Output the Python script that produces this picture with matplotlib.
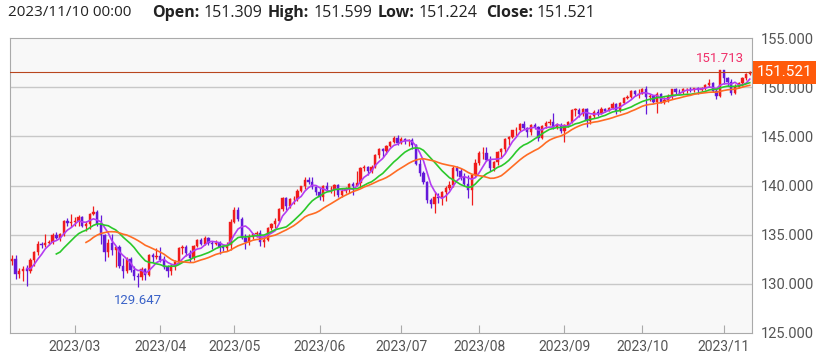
import matplotlib
matplotlib.use("Agg")
import matplotlib.pyplot as plt
import matplotlib.patches as mpatches
import numpy as np
import pandas as pd

# USD/JPY daily candles, 2023/02/06 - 2023/11/10 (weekdays)
dates = pd.bdate_range("2023-02-06", "2023-11-10")

opens = [
    132.30, 132.55, 131.05, 131.35, 131.50, 131.35, 132.40, 133.20, 134.10, 133.90,
    134.15, 134.25, 135.00, 134.70, 135.05, 136.40, 136.20,
    136.25, 136.40, 136.75, 135.85, 136.05, 137.10, 137.30, 136.10, 135.00, 133.20,
    134.20, 133.40, 133.70, 131.80, 131.30, 132.50, 131.45, 130.80, 130.70, 131.50,
    130.90, 132.90, 132.70,
    132.80, 132.40, 131.70, 131.30, 131.80, 132.20, 133.60, 133.70, 133.10, 132.60,
    133.80, 134.50, 134.10, 134.70, 134.20, 134.10, 134.20, 133.70, 133.60, 133.90,
    136.30, 137.50, 136.60, 134.70, 134.30, 134.80, 135.10, 135.20, 134.30, 134.50,
    135.70, 136.10, 136.40, 137.60, 138.70, 137.90, 138.60, 138.60, 139.40, 139.90,
    140.60, 140.40, 139.80,
    139.30, 138.80, 139.90, 139.60, 139.60, 140.10, 139.00, 139.40, 139.60, 140.20,
    140.00, 140.30, 141.80, 141.90, 141.50, 141.90, 143.10, 143.70, 143.50, 144.00,
    144.40, 144.80,
    144.30, 144.70, 144.50, 144.60, 144.10, 142.20, 141.30, 140.40, 138.50, 138.10,
    138.80, 138.75, 139.30, 139.70, 140.10, 141.80, 141.50, 140.90, 140.20, 139.50,
    141.10,
    142.30, 143.30, 143.30, 142.55, 141.80, 142.40, 143.40, 143.70, 144.70, 144.90,
    145.60, 145.60, 146.30, 145.80, 145.40, 146.20, 145.90, 144.80, 146.10, 146.40,
    146.50, 145.90, 146.20,
    145.50, 146.20, 146.50, 147.70, 147.70, 147.30, 147.80, 146.60, 147.10, 147.50,
    147.40, 147.80, 147.60, 147.90, 148.30, 147.60, 148.40, 148.90, 149.05, 149.60,
    149.30,
    149.35, 149.85, 149.00, 149.10, 148.50, 149.30, 148.50, 148.70, 149.10, 149.80,
    149.55, 149.50, 149.80, 149.85, 149.80, 149.90, 149.70, 149.90, 150.20, 150.40,
    149.60, 149.10,
    151.70, 150.90, 150.50, 149.40, 150.00, 150.40, 150.90, 151.309,
]
highs = [
    132.90, 132.90, 131.60, 131.80, 131.90, 132.60, 133.30, 134.35, 134.30, 135.10,
    134.50, 135.20, 135.30, 135.20, 136.50, 136.70, 137.10,
    136.80, 137.05, 136.90, 136.40, 137.20, 137.90, 137.50, 136.95, 135.10, 134.60,
    135.10, 133.80, 133.90, 132.60, 132.70, 132.70, 131.80, 131.10, 131.70, 131.60,
    133.00, 133.10, 133.60,
    133.75, 132.80, 131.90, 132.00, 132.40, 133.70, 133.90, 134.00, 133.40, 134.00,
    134.60, 134.70, 134.90, 134.80, 134.40, 134.50, 134.40, 133.80, 134.30, 136.55,
    137.80, 137.80, 136.80, 135.10, 135.10, 135.20, 135.40, 135.50, 134.80, 135.80,
    136.20, 136.70, 137.70, 138.80, 138.80, 138.70, 138.90, 139.60, 140.00, 140.90,
    140.90, 140.90, 140.00,
    139.70, 140.10, 140.40, 139.90, 140.20, 140.20, 139.70, 139.80, 140.30, 140.40,
    141.50, 141.90, 142.10, 142.00, 142.10, 143.20, 143.80, 143.80, 144.10, 144.50,
    145.00, 145.10,
    144.90, 144.80, 144.70, 144.80, 144.20, 142.70, 141.50, 140.50, 138.70, 139.30,
    139.20, 139.40, 139.90, 140.50, 142.00, 142.00, 141.80, 141.30, 141.10, 141.20,
    142.70,
    143.50, 143.90, 143.90, 143.00, 142.50, 143.50, 143.80, 144.80, 145.00, 145.60,
    145.90, 146.40, 146.60, 146.00, 146.30, 146.40, 146.10, 146.20, 146.60, 146.80,
    147.40, 146.40, 146.40,
    146.30, 146.60, 147.80, 147.90, 147.90, 147.90, 147.90, 147.20, 147.70, 147.80,
    147.95, 147.90, 148.00, 148.45, 148.40, 148.50, 149.00, 149.20, 149.70, 149.70,
    149.80,
    149.90, 150.16, 149.30, 149.20, 149.50, 149.40, 149.00, 149.30, 149.85, 149.90,
    149.80, 149.90, 149.90, 150.00, 149.95, 150.00, 150.00, 150.30, 150.80, 150.50,
    149.80, 151.713,
    151.65, 151.00, 150.80, 150.30, 150.50, 151.00, 151.40, 151.599,
]
lows = [
    131.95, 130.50, 130.60, 130.25, 129.80, 131.10, 131.80, 132.90, 133.60, 133.70,
    133.90, 134.10, 134.60, 134.40, 134.90, 135.90, 135.80,
    135.90, 135.90, 135.75, 135.40, 135.60, 137.00, 135.90, 134.10, 132.30, 132.70,
    132.90, 131.70, 131.60, 130.60, 131.10, 131.20, 130.40, 129.647, 130.40, 130.40,
    130.80, 132.20, 132.50,
    132.25, 131.50, 130.65, 130.90, 131.40, 132.10, 133.00, 132.80, 132.20, 132.40,
    133.70, 133.90, 133.90, 133.90, 133.50, 133.90, 133.00, 133.30, 133.30, 133.40,
    136.20, 136.40, 134.60, 133.50, 133.90, 134.60, 134.80, 133.80, 133.70, 134.40,
    135.50, 135.70, 136.30, 137.40, 137.50, 137.70, 138.10, 138.40, 139.30, 139.60,
    140.20, 139.60, 139.00,
    138.50, 138.40, 139.40, 139.20, 138.90, 138.80, 138.80, 139.20, 139.20, 139.00,
    140.00, 139.80, 141.50, 141.10, 141.30, 141.80, 142.80, 142.90, 143.20, 143.90,
    144.30, 144.10,
    144.20, 144.20, 144.00, 143.70, 142.10, 141.00, 140.20, 138.20, 137.70, 137.25,
    138.20, 138.00, 138.40, 139.50, 139.80, 141.00, 140.60, 139.90, 138.70, 138.05,
    140.90,
    142.10, 142.70, 142.50, 141.50, 141.50, 142.10, 142.90, 143.30, 144.10, 144.80,
    145.00, 145.50, 145.70, 144.90, 145.10, 145.70, 144.50, 144.70, 145.80, 146.20,
    145.70, 145.70, 145.30,
    144.40, 146.00, 146.40, 147.10, 147.00, 147.10, 145.90, 146.30, 146.90, 147.10,
    147.30, 147.50, 147.60, 147.80, 147.30, 147.50, 148.30, 148.80, 148.90, 149.10,
    148.90,
    149.30, 147.30, 148.60, 148.40, 147.40, 148.40, 148.30, 148.50, 148.80, 149.30,
    149.30, 149.30, 149.40, 149.50, 149.50, 149.30, 149.60, 149.70, 150.00, 149.50,
    148.80, 149.00,
    150.30, 150.10, 149.20, 149.30, 149.90, 150.10, 150.70, 151.224,
]
closes = [
    132.55, 131.05, 131.35, 131.50, 131.35, 132.40, 133.20, 134.10, 133.90, 134.15,
    134.25, 135.00, 134.70, 135.05, 136.40, 136.20, 136.25,
    136.40, 136.75, 135.85, 136.05, 137.10, 137.30, 136.10, 135.00, 133.20, 134.20,
    133.40, 133.70, 131.80, 131.30, 132.50, 131.45, 130.80, 130.70, 131.50, 130.90,
    132.90, 132.70, 132.80,
    132.40, 131.70, 131.30, 131.80, 132.20, 133.60, 133.70, 133.10, 132.60, 133.80,
    134.50, 134.10, 134.70, 134.20, 134.10, 134.20, 133.70, 133.60, 133.90, 136.30,
    137.50, 136.60, 134.70, 134.30, 134.80, 135.10, 135.20, 134.30, 134.50, 135.70,
    136.10, 136.40, 137.60, 138.70, 137.90, 138.60, 138.60, 139.40, 139.90, 140.60,
    140.40, 139.80, 139.30,
    138.80, 139.90, 139.60, 139.60, 140.10, 139.00, 139.40, 139.60, 140.20, 140.00,
    140.30, 141.80, 141.90, 141.50, 141.90, 143.10, 143.70, 143.50, 144.00, 144.40,
    144.80, 144.30,
    144.70, 144.50, 144.60, 144.10, 142.20, 141.30, 140.40, 138.50, 138.10, 138.80,
    138.75, 139.30, 139.70, 140.10, 141.80, 141.50, 140.90, 140.20, 139.50, 141.10,
    142.30,
    143.30, 143.30, 142.55, 141.80, 142.40, 143.40, 143.70, 144.70, 144.90, 145.60,
    145.60, 146.30, 145.80, 145.40, 146.20, 145.90, 144.80, 146.10, 146.40, 146.50,
    145.90, 146.20, 145.50,
    146.20, 146.50, 147.70, 147.70, 147.30, 147.80, 146.60, 147.10, 147.50, 147.40,
    147.80, 147.60, 147.90, 148.30, 147.60, 148.40, 148.90, 149.05, 149.60, 149.30,
    149.35,
    149.85, 149.00, 149.10, 148.50, 149.30, 148.50, 148.70, 149.10, 149.80, 149.55,
    149.50, 149.80, 149.85, 149.80, 149.90, 149.70, 149.90, 150.20, 150.40, 149.60,
    149.10, 151.70,
    150.90, 150.50, 149.40, 150.00, 150.40, 150.90, 151.30, 151.521,
]

ma_windows = [5, 13, 21]
ma_colors = ["#b43cf2", "#2bc92b", "#ff6c24"]

up_color = "#f01c1c"
down_color = "#6419d9"

o = np.array(opens)
h = np.array(highs)
l = np.array(lows)
c = np.array(closes)
x = np.arange(len(c))

W, H = 816, 360
fig = plt.figure(figsize=(W / 100, H / 100), dpi=100)
ax = fig.add_axes([10 / W, 1 - 333 / H, 742 / W, 295 / H])
ax.set_facecolor("#f8f8f8")

# grid
for yv in [130, 135, 140, 145, 150]:
    ax.axhline(yv, color="#c8c8c8", lw=1, zorder=0)

# candles
cols = np.where(c >= o, up_color, down_color)
ax.vlines(x, l, h, colors=cols, lw=0.9, zorder=2)
body_lo = np.minimum(o, c)
body_h = np.maximum(np.abs(c - o), 0.04)
ax.bar(x, body_h, bottom=body_lo, width=0.62, color=cols, edgecolor=cols, lw=0.3, zorder=3)

# moving averages
s = pd.Series(c)
for w, col in zip(ma_windows, ma_colors):
    ax.plot(x, s.rolling(w).mean(), color=col, lw=1.2, zorder=4)

ax.set_xlim(-0.5, len(c) - 0.4)
ax.set_ylim(125, 155)

# last price line + tag on the right edge
last = closes[-1]
ax.axhline(last, color="#b8461e", lw=0.8, zorder=5)
y_pix = ax.transData.transform((0, last))[1]
tag_y = y_pix / H
fig.patches.append(mpatches.Rectangle((753 / W, tag_y - 11.5 / H), 63 / W, 23 / H,
                                      transform=fig.transFigure, fc="#ff5a0a", ec="none"))
fig.text(785 / W, tag_y, "%.3f" % last, ha="center", va="center", color="white",
         fontsize=11, family="Roboto")

# max / min labels
imax = int(np.argmax(h))
imin = int(np.argmin(l))
ax.annotate("%.3f" % h[imax], (imax, h[imax]), xytext=(0, 4), textcoords="offset points",
            ha="center", va="bottom", color="#f0306a", fontsize=9.5, family="Roboto")
ax.annotate("%.3f" % l[imin], (imin, l[imin]), xytext=(0, -5), textcoords="offset points",
            ha="center", va="top", color="#3b63c8", fontsize=9.5, family="Roboto")

# y axis on right
yt = [125, 130, 135, 140, 145, 150, 155]
ax.yaxis.tick_right()
ax.set_yticks(yt)
ax.set_yticklabels(["%.3f" % v for v in yt])
ax.tick_params(axis="y", length=0, pad=6, labelsize=10.5, labelcolor="#555555")

# month ticks
month_first = pd.Series(x, index=dates).groupby(dates.to_period("M")).first()
month_first = month_first[month_first.index >= pd.Period("2023-03", "M")]
ax.set_xticks(month_first.values)
ax.set_xticklabels([p.strftime("%Y/%m") for p in month_first.index])
ax.tick_params(axis="x", direction="in", length=6, color="#aaaaaa", pad=5,
               labelsize=10, labelcolor="#555555")
for lab in ax.get_xticklabels() + ax.get_yticklabels():
    lab.set_family("Roboto")

for sp in ax.spines.values():
    sp.set_color("#aaaaaa")
    sp.set_linewidth(0.8)

# header line
header_date = "2023/11/10 00:00"
header_items = [("Open:", "151.309", 152), ("High:", "151.599", 268),
                ("Low:", "151.224", 378), ("Close:", "151.521", 486)]
fig.canvas.draw()
r = fig.canvas.get_renderer()
hy = 1 - 13 / H
fig.text(8 / W, hy, header_date, ha="left", va="center", fontsize=11,
         family="Open Sans", color="#222222")
for lab, val, xp in header_items:
    t = fig.text(xp / W, hy, lab, ha="left", va="center", fontsize=11.5,
                 fontweight="bold", family="Open Sans", color="#222222")
    bw = t.get_window_extent(renderer=r).width
    fig.text((xp + bw + 4) / W, hy, val, ha="left", va="center", fontsize=11.5,
             family="Open Sans", color="#222222")

fig.savefig("out.png", dpi=100)
